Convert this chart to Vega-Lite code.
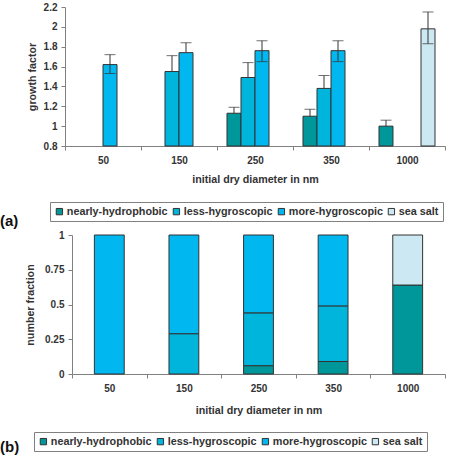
{
  "$schema": "https://vega.github.io/schema/vega-lite/v6.json",
  "padding": {"left": 0, "top": 2, "right": 5, "bottom": 0},
  "spacing": 1,
  "config": {
    "view": {"stroke": null},
    "font": "Liberation Sans",
    "axis": {"labelFont": "Liberation Sans", "labelFontWeight": "bold", "labelFontSize": 10, "labelColor": "#333", "titleFont": "Liberation Sans", "titleFontWeight": "bold", "titleFontSize": 10.7, "titleColor": "#333", "domainColor": "#808080", "tickColor": "#808080", "tickSize": 4, "grid": false, "labelPadding": 4, "labelOverlap": false},
    "legend": {"labelFont": "Liberation Sans", "labelFontWeight": "bold", "labelFontSize": 10.8, "labelColor": "#333", "symbolType": "square", "symbolSize": 40, "symbolStrokeColor": "#333", "symbolStrokeWidth": 1, "strokeColor": "#808080", "padding": 4, "columnPadding": 3, "labelOffset": 2},
    "title": {"font": "Liberation Sans", "fontWeight": "bold", "fontSize": 15, "color": "#111"}
  },
  "resolve": {"legend": {"color": "independent"}, "scale": {"color": "independent"}},
  "datasets": {
    "gf": [
      {"d": "50", "type": "more-hygroscopic", "v": 1.62, "lo": 1.53, "hi": 1.72},
      {"d": "150", "type": "less-hygroscopic", "v": 1.55, "lo": 1.55, "hi": 1.71},
      {"d": "150", "type": "more-hygroscopic", "v": 1.74, "lo": 1.74, "hi": 1.84},
      {"d": "250", "type": "nearly-hydrophobic", "v": 1.13, "lo": 1.13, "hi": 1.19},
      {"d": "250", "type": "less-hygroscopic", "v": 1.49, "lo": 1.49, "hi": 1.64},
      {"d": "250", "type": "more-hygroscopic", "v": 1.76, "lo": 1.65, "hi": 1.86},
      {"d": "350", "type": "nearly-hydrophobic", "v": 1.1, "lo": 1.1, "hi": 1.17},
      {"d": "350", "type": "less-hygroscopic", "v": 1.38, "lo": 1.38, "hi": 1.51},
      {"d": "350", "type": "more-hygroscopic", "v": 1.76, "lo": 1.65, "hi": 1.86},
      {"d": "1000", "type": "nearly-hydrophobic", "v": 1.0, "lo": 1.0, "hi": 1.06},
      {"d": "1000", "type": "sea salt", "v": 1.98, "lo": 1.83, "hi": 2.15}
    ],
    "nf": [
      {"d": "50", "type": "more-hygroscopic", "f": 1.0},
      {"d": "150", "type": "less-hygroscopic", "f": 0.29},
      {"d": "150", "type": "more-hygroscopic", "f": 0.71},
      {"d": "250", "type": "nearly-hydrophobic", "f": 0.06},
      {"d": "250", "type": "less-hygroscopic", "f": 0.38},
      {"d": "250", "type": "more-hygroscopic", "f": 0.56},
      {"d": "350", "type": "nearly-hydrophobic", "f": 0.09},
      {"d": "350", "type": "less-hygroscopic", "f": 0.4},
      {"d": "350", "type": "more-hygroscopic", "f": 0.51},
      {"d": "1000", "type": "nearly-hydrophobic", "f": 0.64},
      {"d": "1000", "type": "sea salt", "f": 0.36}
    ]
  },
  "vconcat": [
    {
      "width": 380,
      "height": 139,
      "data": {"name": "gf"},
      "title": {"text": "(a)", "orient": "bottom", "anchor": "start", "frame": "group", "dx": -65, "offset": -8},
      "encoding": {
        "x": {"field": "d", "type": "ordinal", "sort": ["50", "150", "250", "350", "1000"], "scale": {"paddingInner": 0, "paddingOuter": 0}, "axis": {"title": "initial dry diameter in nm", "labelAngle": 0, "tickBand": "extent", "labelPadding": 5, "titlePadding": 9}},
        "xOffset": {"field": "type", "type": "nominal", "sort": ["nearly-hydrophobic", "less-hygroscopic", "more-hygroscopic", "sea salt"], "scale": {"domain": ["nearly-hydrophobic", "less-hygroscopic", "more-hygroscopic", "sea salt"], "paddingInner": 0, "paddingOuter": 0.714}}
      },
      "layer": [
        {
          "mark": {"type": "bar", "stroke": "#333", "strokeWidth": 1},
          "encoding": {
            "y": {"field": "v", "type": "quantitative", "title": "growth factor", "scale": {"domain": [0.8, 2.2], "nice": false, "zero": false}, "axis": {"values": [0.8, 1, 1.2, 1.4, 1.6, 1.8, 2, 2.2], "labelExpr": "'' + datum.value", "labelOverlap": false, "labelFlush": false, "titlePadding": 6}},
            "y2": {"datum": 0.8},
            "color": {"field": "type", "type": "nominal", "scale": {"domain": ["nearly-hydrophobic", "less-hygroscopic", "more-hygroscopic", "sea salt"], "range": ["#00979A", "#00B5DC", "#00B7EF", "#CCE8F2"]}, "legend": {"title": null, "orient": "none", "legendX": -15, "legendY": 195, "direction": "horizontal", "columns": 4}}
          }
        },
        {
          "mark": {"type": "rule", "color": "#333", "strokeWidth": 1},
          "encoding": {
            "y": {"field": "lo", "type": "quantitative", "title": "growth factor", "axis": {"values": [0.8, 1, 1.2, 1.4, 1.6, 1.8, 2, 2.2], "labelExpr": "'' + datum.value", "labelOverlap": false, "labelFlush": false, "titlePadding": 6}},
            "y2": {"field": "hi"}
          }
        },
        {
          "mark": {"type": "tick", "color": "#333", "size": 11, "thickness": 1},
          "encoding": {
            "y": {"field": "hi", "type": "quantitative", "title": "growth factor", "axis": {"values": [0.8, 1, 1.2, 1.4, 1.6, 1.8, 2, 2.2], "labelExpr": "'' + datum.value", "labelOverlap": false, "labelFlush": false, "titlePadding": 6}}
          }
        },
        {
          "transform": [{"filter": "datum.lo < datum.v"}],
          "mark": {"type": "tick", "color": "#333", "size": 11, "thickness": 1},
          "encoding": {
            "y": {"field": "lo", "type": "quantitative", "title": "growth factor", "axis": {"values": [0.8, 1, 1.2, 1.4, 1.6, 1.8, 2, 2.2], "labelExpr": "'' + datum.value", "labelOverlap": false, "labelFlush": false, "titlePadding": 6}}
          }
        }
      ]
    },
    {
      "width": 380,
      "height": 139,
      "data": {"name": "nf"},
      "transform": [{"calculate": "indexof(['nearly-hydrophobic','less-hygroscopic','more-hygroscopic','sea salt'], datum.type)", "as": "stackrank"}],
      "title": {"text": "(b)", "orient": "bottom", "anchor": "start", "frame": "group", "dx": -65, "offset": -12},
      "mark": {"type": "bar", "stroke": "#333", "strokeWidth": 1, "width": {"band": 0.4}},
      "encoding": {
        "x": {"field": "d", "type": "ordinal", "sort": ["50", "150", "250", "350", "1000"], "scale": {"paddingInner": 0, "paddingOuter": 0, "range": [7, 380]}, "axis": {"title": "initial dry diameter in nm", "labelAngle": 0, "tickBand": "extent", "labelPadding": 5, "titlePadding": 12}},
        "y": {"field": "f", "type": "quantitative", "stack": "zero", "title": "number fraction", "scale": {"domain": [0, 1], "nice": false}, "axis": {"values": [0, 0.25, 0.5, 0.75, 1], "labelExpr": "'' + datum.value", "offset": -7, "titlePadding": 9}},
        "order": {"field": "stackrank", "type": "quantitative", "sort": "ascending"},
        "color": {"field": "type", "type": "nominal", "scale": {"domain": ["nearly-hydrophobic", "less-hygroscopic", "more-hygroscopic", "sea salt"], "range": ["#00979A", "#00B5DC", "#00B7EF", "#CCE8F2"]}, "legend": {"title": null, "orient": "none", "legendX": -31, "legendY": 197, "direction": "horizontal", "columns": 4}}
      }
    }
  ]
}
